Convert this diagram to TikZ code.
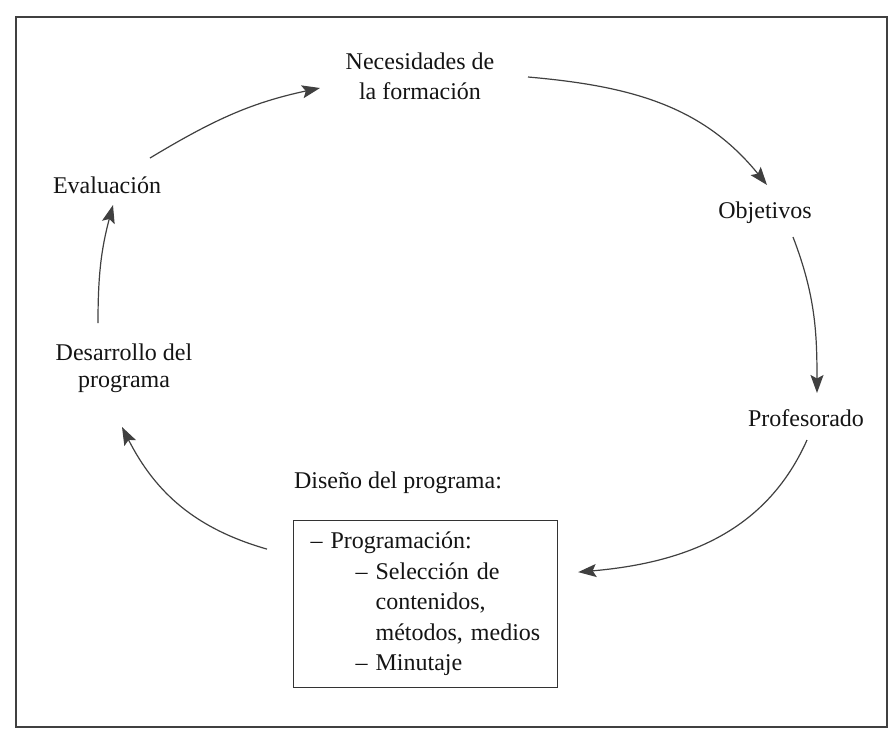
\documentclass[tikz,border=0pt]{standalone}
\usepackage{fontspec}
\setmainfont{Liberation Serif}
\usetikzlibrary{arrows.meta,calc,positioning}
\tikzset{
    stage/.style={align=center,inner sep=0pt,text=black!92,font=\fontsize{24}{30}\selectfont},
    listbox/.style={draw=black!80,line width=1.2pt,text=black!92,font=\fontsize{24}{30.5}\selectfont,
                    align=left,text width=230pt,inner xsep=17pt,minimum height=167pt},
    flow/.style={-{Stealth[length=18pt,width=13pt,inset=3.5pt]},line width=1.2pt,draw=black!75},
    sheet/.style={draw=black!75,line width=1.5pt}
}

\begin{document}
\begin{tikzpicture}[x=1pt,y=1pt]

                \useasboundingbox (0,0) rectangle (891,-737);
                \draw[sheet] (16,-17) rectangle (887,-727);

                \node[stage] (necesidades) at (420,-76)  {Necesidades de\\la formación};
                \node[stage] (objetivos)   at (765,-213) {Objetivos};
                \node[stage] (profesorado) at (806,-418) {Profesorado};
                \node[stage] (diseno)      at (398,-483) {Diseño del programa:};
                \node[listbox, anchor=north west] (diseno box) at (293,-520)
                    {– Programación:\\
                     \hspace*{45pt}– Selección de\\
                     \hspace*{65pt}contenidos,\\
                     \hspace*{65pt}\mbox{métodos, medios}\\
                     \hspace*{45pt}– Minutaje};
                \node[stage, font=\fontsize{24}{27}\selectfont]
                             (desarrollo)  at (124,-368) {Desarrollo del\\programa};
                \node[stage] (evaluacion)  at (107,-185) {Evaluación};

                % the cycle, clockwise
                \draw[flow] ($(evaluacion)+(43,27)$)     to[out=31,in=192]   ($(necesidades)+(-100,-12)$);
                \draw[flow] ($(necesidades)+(108,-1)$)   to[out=-5,in=129]   ($(objetivos)+(2,28)$);
                \draw[flow] ($(objetivos)+(28,-24)$)     to[out=-69,in=90]   ($(profesorado)+(11,25)$);
                \draw[flow] ($(profesorado)+(1,-22)$)    to[out=-114,in=5]   ($(diseno box.east)+(20,32)$);
                \draw[flow] ($(diseno box.west)+(-26,55)$) to[out=164,in=-63] ($(desarrollo)+(-2,-59)$);
                \draw[flow] ($(desarrollo)+(-26,45)$)    to[out=90,in=-105]  ($(evaluacion)+(6,-20)$);

            \end{tikzpicture}
\end{document}
